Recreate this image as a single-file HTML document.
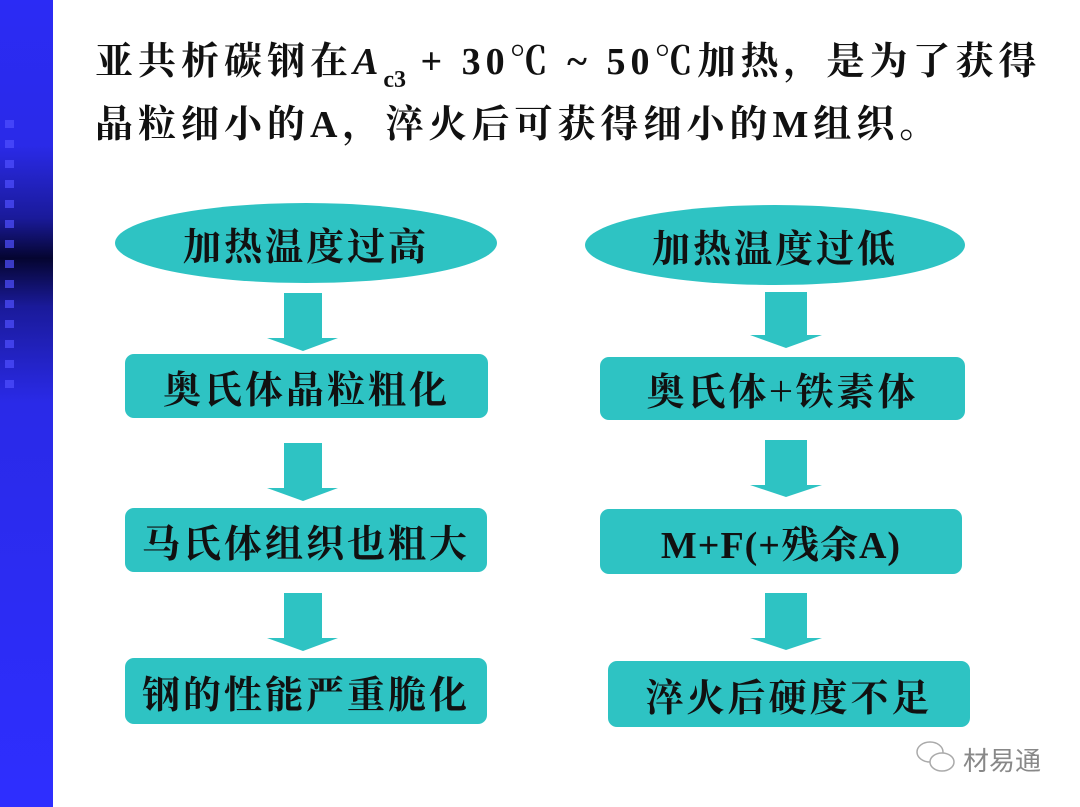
<!DOCTYPE html>
<html><head><meta charset="utf-8"><style>
body{margin:0;width:1080px;height:807px;background:#fff;position:relative;overflow:hidden;font-family:"Liberation Serif","Noto Serif CJK SC",serif}
.side{position:absolute;left:0;top:0;width:53px;height:807px;background:linear-gradient(to bottom,#2b2bf5 0%,#2a2ae8 18%,#1a1a9a 27%,#050530 32%,#1a1a9a 38%,#2a2ae8 50%,#2e2eff 100%)}
.sq{position:absolute;left:5px;width:9px;height:8px;background:rgba(80,80,255,0.7)}
.t{position:absolute;left:95px;font-size:38px;font-weight:bold;color:#111;white-space:nowrap;line-height:40px}
.box{position:absolute;background:#2ec3c3;border-radius:9px;display:flex;align-items:center;justify-content:center;font-size:38px;font-weight:bold;color:#111;font-family:"Noto Serif CJK SC","Liberation Serif",serif;letter-spacing:3px}
.ell{border-radius:50%}
</style></head><body>
<div class="side"></div>
<div class="sq" style="top:120px"></div><div class="sq" style="top:140px"></div><div class="sq" style="top:160px"></div><div class="sq" style="top:180px"></div><div class="sq" style="top:200px"></div><div class="sq" style="top:220px"></div><div class="sq" style="top:240px"></div><div class="sq" style="top:260px"></div><div class="sq" style="top:280px"></div><div class="sq" style="top:300px"></div><div class="sq" style="top:320px"></div><div class="sq" style="top:340px"></div><div class="sq" style="top:360px"></div><div class="sq" style="top:380px"></div>
<div class="t" style="top:42px;letter-spacing:5px">亚共析碳钢在<i>A</i><sub style="font-size:24px;position:relative;top:4px;letter-spacing:0">c3</sub> + 30℃ ~ 50℃加热，是为了获得</div>
<div class="t" style="top:105px;letter-spacing:5px">晶粒细小的A，淬火后可获得细小的M组织。</div>

<div class="box ell" style="left:115px;top:203px;width:382px;height:80px">加热温度过高</div>
<div class="box" style="left:125px;top:354px;width:363px;height:64px">奥氏体晶粒粗化</div>
<div class="box" style="left:125px;top:508px;width:362px;height:64px">马氏体组织也粗大</div>
<div class="box" style="left:125px;top:658px;width:362px;height:66px">钢的性能严重脆化</div>

<div class="box ell" style="left:585px;top:205px;width:380px;height:80px">加热温度过低</div>
<div class="box" style="left:600px;top:357px;width:365px;height:63px">奥氏体+铁素体</div>
<div class="box" style="left:600px;top:509px;width:362px;height:65px;font-family:'Liberation Serif','Noto Serif CJK SC',serif;letter-spacing:1px">M+F(+残余A)</div>
<div class="box" style="left:608px;top:661px;width:362px;height:66px">淬火后硬度不足</div>

<svg width="1080" height="807" style="position:absolute;left:0;top:0">
<g fill="#2ec3c3">
<polygon points="284,293 322,293 322,338 338,338 303,351 267,338 284,338"/>
<polygon points="284,443 322,443 322,488 338,488 303,501 267,488 284,488"/>
<polygon points="284,593 322,593 322,638 338,638 303,651 267,638 284,638"/>
<polygon points="765,292 807,292 807,335 822,335 786,348 750,335 765,335"/>
<polygon points="765,440 807,440 807,485 822,485 786,497 750,485 765,485"/>
<polygon points="765,593 807,593 807,638 822,638 786,650 750,638 765,638"/>
</g>
<g fill="none" stroke="#aaa" stroke-width="1.5">
<ellipse cx="930" cy="752" rx="13" ry="10"/><ellipse cx="942" cy="762" rx="12" ry="9" fill="#fff"/>
</g>
<text x="963" y="770" font-size="26" fill="#888" font-family="Noto Sans CJK SC,sans-serif">材易通</text>
</svg>
</body></html>
